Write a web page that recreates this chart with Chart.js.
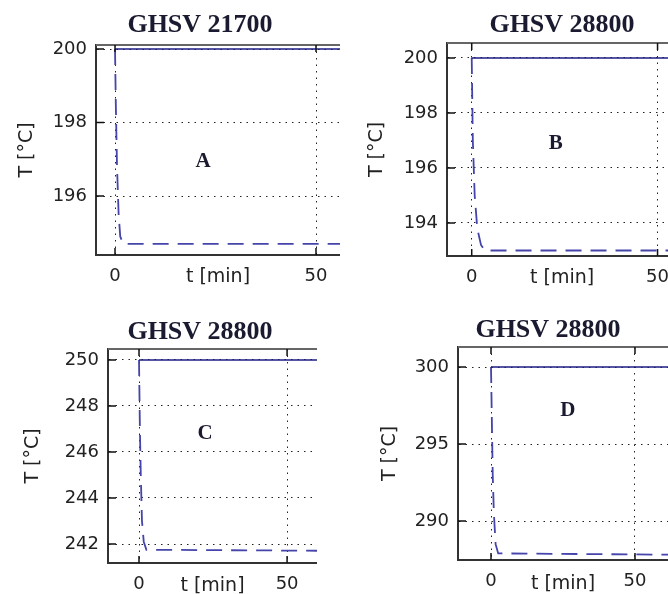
<!DOCTYPE html>
<html lang="en">
<head>
<meta charset="UTF-8">
<title>GHSV</title>
<script src="https://cdn.jsdelivr.net/npm/chart.js"></script>
<style>
  html, body { margin: 0; padding: 0; background: #fff; overflow: hidden; width: 668px; height: 594px; }
  .panel { position: absolute; }
</style>
</head>
<body>
<div class="panel" style="left:0px;top:0px;width:340px;height:290px"><canvas id="cA"></canvas></div>
<div class="panel" style="left:340px;top:0px;width:340px;height:290px"><canvas id="cB"></canvas></div>
<div class="panel" style="left:0px;top:290px;width:317px;height:310px"><canvas id="cC"></canvas></div>
<div class="panel" style="left:330px;top:290px;width:338px;height:310px"><canvas id="cD"></canvas></div>

<script>
// data
const panelTitles = ['GHSV 21700', 'GHSV 28800', 'GHSV 28800', 'GHSV 28800'];
const panelLetters = ['A', 'B', 'C', 'D'];
const xTicks = [0, 50];

const yTicksA = [196, 198, 200];
const yTicksB = [194, 196, 198, 200];
const yTicksC = [242, 244, 246, 248, 250];
const yTicksD = [290, 295, 300];

// setpoint (solid)
const setTimeA = [0, 70];  const setTempA = [200, 200];
const setTimeB = [0, 70];  const setTempB = [200, 200];
const setTimeC = [0, 70];  const setTempC = [250, 250];
const setTimeD = [0, 70];  const setTempD = [300, 300];

// response (dashed)
const respTimeA = [0, 0.2, 0.5, 0.9, 1.3, 2, 70];
const respTempA = [200, 198.5, 196.8, 195.5, 194.9, 194.7, 194.7];
const respTimeB = [0, 0.3, 0.8, 1.5, 2.5, 3.5, 70];
const respTempB = [200, 197, 195, 193.8, 193.2, 193.0, 193.0];
const respTimeC = [0, 0.3, 0.6, 1, 1.6, 2.5, 70];
const respTempC = [250, 247, 245, 243, 242.1, 241.75, 241.7];
const respTimeD = [0, 0.3, 0.6, 1, 1.6, 2.5, 70];
const respTempD = [300, 296.5, 293, 290.5, 288.5, 287.9, 287.8];

const tickFont = { family: 'DejaVu Sans', size: 18 };
const axisFont = { family: 'DejaVu Sans', size: 19 };

// frame top line, inward tick marks and the text inside each panel
const panelText = {
    id: 'panelText',
    afterDatasetsDraw(chart, args, opts) {
        const ctx = chart.ctx;
        const a = chart.chartArea;
        const xs = chart.scales.x, ys = chart.scales.y;
        ctx.save();
        ctx.strokeStyle = '#666';
        ctx.lineWidth = 2;
        ctx.beginPath();
        ctx.moveTo(a.left, a.top);
        ctx.lineTo(a.right, a.top);
        ctx.stroke();

        ctx.strokeStyle = '#111';
        ctx.lineWidth = 1.5;
        ctx.beginPath();
        xTicks.forEach(v => {
            const px = xs.getPixelForValue(v);
            ctx.moveTo(px, a.bottom); ctx.lineTo(px, a.bottom - 7);
            ctx.moveTo(px, a.top); ctx.lineTo(px, a.top + 7);
        });
        ys.ticks.forEach(t => {
            const py = ys.getPixelForValue(t.value);
            ctx.moveTo(a.left, py); ctx.lineTo(a.left + 8, py);
        });
        ctx.stroke();

        ctx.fillStyle = '#1a1a30';
        ctx.textAlign = 'center';
        ctx.textBaseline = 'middle';
        ctx.font = 'bold 26px "Liberation Serif"';
        ctx.fillText(opts.title, opts.titleX, opts.titleY);
        ctx.font = 'bold 21px "Liberation Serif"';
        ctx.fillText(opts.letter, xs.getPixelForValue(opts.letterX), ys.getPixelForValue(opts.letterY));
        ctx.restore();
    }
};

function pts(xs, ys) {
    return ys.map((v, i) => ({ x: xs[i], y: v }));
}

function makePanel(id, p) {
    return new Chart(document.getElementById(id), {
        type: 'line',
        data: {
            datasets: [{
                data: pts(p.setTime, p.setTemp),
                borderColor: '#1c1c86',
                borderWidth: 1.6,
                pointRadius: 0
            }, {
                data: pts(p.respTime, p.respTemp),
                borderColor: '#4444aa',
                borderWidth: 1.8,
                borderDash: [16, 9],
                pointRadius: 0
            }]
        },
        options: {
            responsive: true,
            maintainAspectRatio: false,
            animation: false,
            layout: { padding: { top: p.areaTop, left: 0, right: 0, bottom: 0 } },
            plugins: {
                legend: { display: false },
                tooltip: { enabled: false },
                panelText: {
                    title: p.title, letter: p.letter,
                    titleX: p.titleX, titleY: p.titleY,
                    letterX: p.letterX, letterY: p.letterY
                }
            },
            scales: {
                x: {
                    type: 'linear',
                    min: p.xMin, max: p.xMax,
                    afterBuildTicks: s => { s.ticks = xTicks.map(v => ({ value: v })); },
                    afterFit: s => { s.height = p.xAxisH; },
                    grid: { color: '#222', lineWidth: 1, drawTicks: false },
                    border: { display: true, color: '#333', width: 2, dash: [1.5, 5] },
                    ticks: { padding: 11, font: tickFont, color: '#222', maxRotation: 0, autoSkip: false },
                    title: { display: true, text: 't [min]', font: axisFont, color: '#222',
                             padding: { top: 0, bottom: p.xTitlePad } }
                },
                y: {
                    min: p.yMin, max: p.yMax,
                    afterBuildTicks: s => { s.ticks = p.yTicks.map(v => ({ value: v })); },
                    afterFit: s => { s.width = p.yAxisW; },
                    grid: { color: '#222', lineWidth: 1, drawTicks: false },
                    border: { display: true, color: '#333', width: 2, dash: [1.5, 5] },
                    ticks: { padding: 9, font: tickFont, color: '#222', autoSkip: false },
                    title: { display: true, text: 'T [°C]', font: axisFont, color: '#222',
                             padding: { top: p.yTitlePad, bottom: 0 } }
                }
            }
        },
        plugins: [panelText]
    });
}

makePanel('cA', {
    title: panelTitles[0], letter: panelLetters[0], yTicks: yTicksA,
    setTime: setTimeA, setTemp: setTempA, respTime: respTimeA, respTemp: respTempA,
    xMin: -4.73, xMax: 55.97, yMin: 194.395, yMax: 200.109,
    areaTop: 45, yAxisW: 96, xAxisH: 35, xTitlePad: 1.6, yTitlePad: 15.6,
    titleX: 200, titleY: 25, letterX: 21.9, letterY: 196.95
});
makePanel('cB', {
    title: panelTitles[1], letter: panelLetters[1], yTicks: yTicksB,
    setTime: setTimeB, setTemp: setTempB, respTime: respTimeB, respTemp: respTempB,
    xMin: -6.65, xMax: 55.3, yMin: 192.8, yMax: 200.545,
    areaTop: 43, yAxisW: 107, xAxisH: 34, xTitlePad: 0.6, yTitlePad: 25.6,
    titleX: 222, titleY: 25, letterX: 22.6, letterY: 196.9
});
makePanel('cC', {
    title: panelTitles[2], letter: panelLetters[2], yTicks: yTicksC,
    setTime: setTimeC, setTemp: setTempC, respTime: respTimeC, respTemp: respTempC,
    xMin: -10.47, xMax: 60.1, yMin: 241.174, yMax: 250.478,
    areaTop: 59, yAxisW: 108, xAxisH: 37, xTitlePad: 2.6, yTitlePad: 21.6,
    titleX: 200, titleY: 42, letterX: 22.3, letterY: 246.8
});
makePanel('cD', {
    title: panelTitles[3], letter: panelLetters[3], yTicks: yTicksD,
    setTime: setTimeD, setTemp: setTempD, respTime: respTimeD, respTemp: respTempD,
    xMin: -11.46, xMax: 61.46, yMin: 287.47, yMax: 301.3,
    areaTop: 57, yAxisW: 128, xAxisH: 40, xTitlePad: 4.6, yTitlePad: 48.6,
    titleX: 218, titleY: 40, letterX: 26.7, letterY: 297.2
});
</script>
</body>
</html>
